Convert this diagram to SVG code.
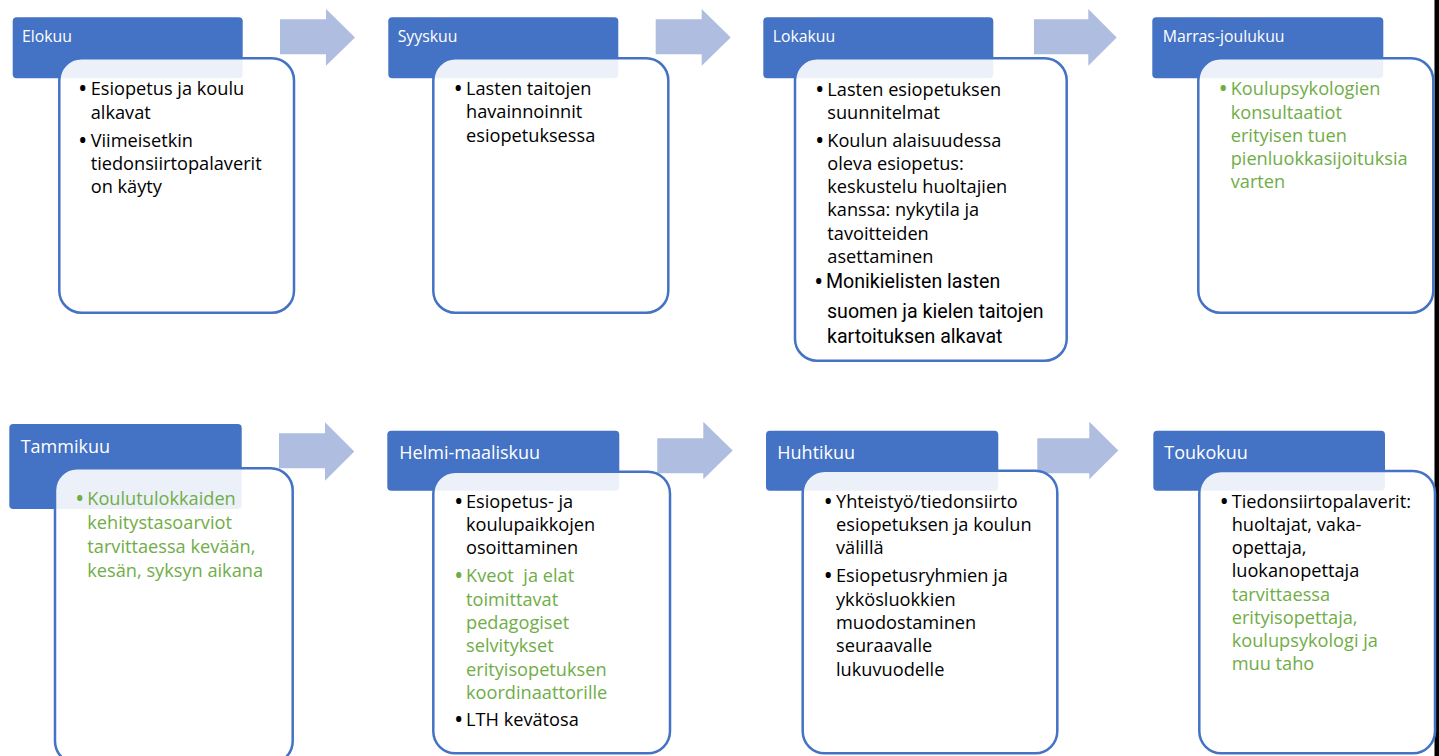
<svg xmlns="http://www.w3.org/2000/svg" width="1439" height="756" viewBox="0 0 1439 756">
<style>
.hd{fill:#4472C4}
.bd{fill:#FFFFFF;fill-opacity:0.9;stroke:#4472C4;stroke-width:2.5}
.ar{fill:#AFBDE0}
.ht{font-family:"Open Sans","Liberation Sans",sans-serif;fill:#FFFFFF;font-size:15.8px}
.hb{font-family:"Open Sans","Liberation Sans",sans-serif;fill:#FFFFFF;font-size:18px}
.t{font-family:"Open Sans","Liberation Sans",sans-serif;font-size:18.2px;fill:#000000}
.g{font-family:"Open Sans","Liberation Sans",sans-serif;font-size:18.2px;fill:#70AD47}
.n{font-family:Roboto,"Liberation Sans",sans-serif;font-size:19.6px;fill:#000000}
.b{font-size:25px}
</style>
<rect x="1434.5" y="0" width="4.5" height="756" fill="#000000"/>
<g id="connectors">
<path class="ar" d="M280,19.3 H326 V9 L355,37.4 L326,65.7 V54.3 H280 Z"/>
<path class="ar" d="M655.7,19.3 H701.7 V9 L730.7,37.4 L701.7,65.7 V54.3 H655.7 Z"/>
<path class="ar" d="M1034,19.3 H1088.3 V9 L1116.7,37.4 L1088.3,65.7 V54.3 H1034 Z"/>
<path class="ar" d="M279,433.3 H325 V422.3 L354.3,451.5 L325,480.7 V468.3 H279 Z"/>
<path class="ar" d="M657.3,438.3 H703.3 V421.7 L732.7,450.5 L703.3,479.3 V473.3 H657.3 Z"/>
<path class="ar" d="M1037.3,438.3 H1089.3 V421.7 L1118.3,450.5 L1089.3,479.3 V473.3 H1037.3 Z"/>
</g>
<g id="elokuu">
<rect class="hd" x="12.7" y="17.3" width="230" height="61" rx="4"/>
<text class="ht" x="22" y="41.7">Elokuu</text>
<rect class="bd" x="59.3" y="58.3" width="234.7" height="254.4" rx="22"/>
<text class="t b" x="78" y="97">•</text>
<text class="t" x="90.7" y="95">Esiopetus ja koulu</text>
<text class="t" x="90.7" y="118.5">alkavat</text>
<text class="t b" x="78" y="148.5">•</text>
<text class="t" x="90.7" y="146.5">Viimeisetkin</text>
<text class="t" x="90.7" y="169.7">tiedonsiirtopalaverit</text>
<text class="t" x="90.7" y="192.8">on käyty</text>
</g>
<g id="syyskuu">
<rect class="hd" x="388.3" y="17.3" width="230" height="61" rx="4"/>
<text class="ht" x="397.7" y="41.7">Syyskuu</text>
<rect class="bd" x="433.3" y="58.3" width="235" height="254.4" rx="22"/>
<text class="t b" x="453.5" y="97">•</text>
<text class="t" x="466" y="95">Lasten taitojen</text>
<text class="t" x="466" y="118.3">havainnoinnit</text>
<text class="t" x="466" y="141.7">esiopetuksessa</text>
</g>
<g id="lokakuu">
<rect class="hd" x="763.3" y="17.3" width="230" height="61" rx="4"/>
<text class="ht" x="772.7" y="41.7">Lokakuu</text>
<rect class="bd" x="795" y="58.3" width="271.7" height="302.4" rx="22"/>
<text class="t b" x="815" y="97.5">•</text>
<text class="t" x="827.3" y="95.5">Lasten esiopetuksen</text>
<text class="t" x="827.3" y="118.8">suunnitelmat</text>
<text class="t b" x="815" y="148.5">•</text>
<text class="t" x="827.3" y="146.5">Koulun alaisuudessa</text>
<text class="t" x="827.3" y="169.7">oleva esiopetus:</text>
<text class="t" x="827.3" y="193">keskustelu huoltajien</text>
<text class="t" x="827.3" y="216.3">kanssa: nykytila ja</text>
<text class="t" x="827.3" y="239.6">tavoitteiden</text>
<text class="t" x="827.3" y="263">asettaminen</text>
<text class="t b" x="814" y="290.3">•</text>
<text class="n" x="826" y="288.3">Monikielisten lasten</text>
<text class="n" x="827" y="318.3">suomen ja kielen taitojen</text>
<text class="n" x="827" y="343.3">kartoituksen alkavat</text>
</g>
<g id="marras-joulukuu">
<rect class="hd" x="1152.3" y="17.3" width="231" height="61" rx="4"/>
<text class="ht" x="1162.7" y="41.7">Marras-joulukuu</text>
<rect class="bd" x="1198.3" y="58.3" width="235" height="254.4" rx="22"/>
<text class="g b" x="1218.5" y="97">•</text>
<text class="g" x="1230.7" y="95">Koulupsykologien</text>
<text class="g" x="1230.7" y="118.5">konsultaatiot</text>
<text class="g" x="1230.7" y="141.7">erityisen tuen</text>
<text class="g" x="1230.7" y="165.2">pienluokkasijoituksia</text>
<text class="g" x="1230.7" y="188.4">varten</text>
</g>
<g id="tammikuu">
<rect class="hd" x="9.3" y="424" width="232.4" height="85" rx="4"/>
<text class="hb" x="20.7" y="452.7">Tammikuu</text>
<rect class="bd" x="55" y="468.3" width="237.7" height="295" rx="22"/>
<text class="g b" x="75" y="507">•</text>
<text class="g" x="87.3" y="505">Koulutulokkaiden</text>
<text class="g" x="87.3" y="529">kehitystasoarviot</text>
<text class="g" x="87.3" y="553">tarvittaessa kevään,</text>
<text class="g" x="87.3" y="576.7">kesän, syksyn aikana</text>
</g>
<g id="helmi-maaliskuu">
<rect class="hd" x="387.3" y="430.7" width="232" height="60" rx="4"/>
<text class="hb" x="399.3" y="459">Helmi-maaliskuu</text>
<rect class="bd" x="433.3" y="471.7" width="236.7" height="281.6" rx="22"/>
<text class="t b" x="454" y="509.7">•</text>
<text class="t" x="466" y="507.7">Esiopetus- ja</text>
<text class="t" x="466" y="531">koulupaikkojen</text>
<text class="t" x="466" y="554.3">osoittaminen</text>
<text class="g b" x="454" y="584.3">•</text>
<text class="g" x="466" y="582.3" xml:space="preserve">Kveot  ja elat</text>
<text class="g" x="466" y="605.6">toimittavat</text>
<text class="g" x="466" y="628.9">pedagogiset</text>
<text class="g" x="466" y="652.2">selvitykset</text>
<text class="g" x="466" y="675.5">erityisopetuksen</text>
<text class="g" x="466" y="698.8">koordinaattorille</text>
<text class="t b" x="454" y="728">•</text>
<text class="t" x="466" y="726">LTH kevätosa</text>
</g>
<g id="huhtikuu">
<rect class="hd" x="766" y="430.7" width="232.3" height="60" rx="4"/>
<text class="hb" x="777.3" y="459">Huhtikuu</text>
<rect class="bd" x="802.7" y="470.7" width="254.6" height="282.6" rx="22"/>
<text class="t b" x="823.5" y="509.7">•</text>
<text class="t" x="836" y="507.7">Yhteistyö/tiedonsiirto</text>
<text class="t" x="836" y="531">esiopetuksen ja koulun</text>
<text class="t" x="836" y="554.3">välillä</text>
<text class="t b" x="823.5" y="584.3">•</text>
<text class="t" x="836" y="582.3">Esiopetusryhmien ja</text>
<text class="t" x="836" y="605.6">ykkösluokkien</text>
<text class="t" x="836" y="628.9">muodostaminen</text>
<text class="t" x="836" y="652.2">seuraavalle</text>
<text class="t" x="836" y="675.5">lukuvuodelle</text>
</g>
<g id="toukokuu">
<rect class="hd" x="1153.3" y="430.7" width="231.7" height="60" rx="4"/>
<text class="hb" x="1164.3" y="459">Toukokuu</text>
<rect class="bd" x="1199.3" y="471" width="235.7" height="282.3" rx="22"/>
<text class="t b" x="1219.5" y="509.7">•</text>
<text class="t" x="1231.7" y="507.7">Tiedonsiirtopalaverit:</text>
<text class="t" x="1231.7" y="531">huoltajat, vaka-</text>
<text class="t" x="1231.7" y="554.3">opettaja,</text>
<text class="t" x="1231.7" y="577.3">luokanopettaja</text>
<text class="g" x="1231.7" y="600.5">tarvittaessa</text>
<text class="g" x="1231.7" y="623.7">erityisopettaja,</text>
<text class="g" x="1231.7" y="647">koulupsykologi ja</text>
<text class="g" x="1231.7" y="670.3">muu taho</text>
</g>
</svg>
